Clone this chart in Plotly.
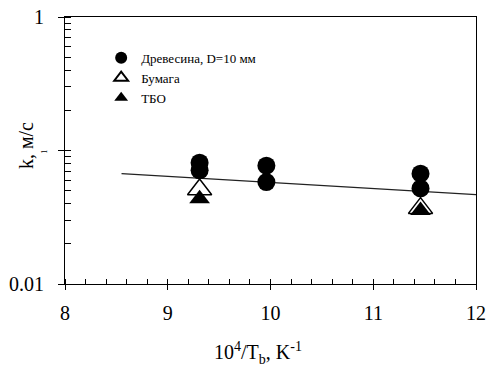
import plotly.graph_objects as go

# Data
wood_x = [9.31, 9.31, 9.96, 9.96, 11.46, 11.46]
wood_k = [0.081, 0.071, 0.077, 0.058, 0.067, 0.052]

paper_x = [9.31, 11.46]
paper_k = [0.051, 0.037]

msw_x = [9.31, 11.46]
msw_k = [0.0435, 0.0355]

fit_x = [8.55, 9.0, 9.5, 10.0, 10.5, 11.0, 11.5, 12.0]
fit_k = [0.0670, 0.0639, 0.0607, 0.0575, 0.0546, 0.0518, 0.0492, 0.0467]

y_tickvals = [0.01, 0.1, 1]
y_ticktext = ["0.01", "", "1"]

FONT = "Liberation Serif, Times New Roman, DejaVu Serif, serif"

fig = go.Figure()
fig.add_trace(go.Scatter(x=fit_x, y=fit_k, mode="lines", showlegend=False,
                         line=dict(color="#222222", width=1.3), hoverinfo="skip"))
fig.add_trace(go.Scatter(x=wood_x, y=wood_k, mode="markers", name="Древесина, D=10 мм",
                         marker=dict(symbol="circle", size=18, color="black")))
fig.add_trace(go.Scatter(x=paper_x, y=paper_k, mode="markers", name="Бумага",
                         marker=dict(symbol="triangle-up", size=21, color="white",
                                     line=dict(color="black", width=1.5))))
fig.add_trace(go.Scatter(x=msw_x, y=msw_k, mode="markers", name="ТБО",
                         marker=dict(symbol="triangle-up", size=18, color="black")))

fig.update_xaxes(range=[8, 12], dtick=1, tick0=8, showline=True, linecolor="black", linewidth=1,
                 mirror=True, ticks="outside", ticklen=5, tickcolor="black", showgrid=False,
                 zeroline=False, tickfont=dict(family=FONT, size=20, color="black"),
                 ticklabelstandoff=6, automargin=False,
                 minor=dict(ticks="inside", dtick=0.2, ticklen=5, tickcolor="black", showgrid=False))
fig.update_yaxes(type="log", range=[-2, 0], tickmode="array", tickvals=y_tickvals, ticktext=y_ticktext,
                 showline=True, linecolor="black", linewidth=1, mirror=True,
                 ticks="outside", ticklen=6, tickcolor="black", showgrid=False, zeroline=False,
                 tickfont=dict(family=FONT, size=20, color="black"), ticklabelstandoff=10,
                 automargin=False,
                 minor=dict(ticks="inside", dtick="D1", ticklen=6, tickcolor="black", showgrid=False))

fig.update_layout(
    width=488, height=369,
    margin=dict(l=65, r=12, t=17, b=85),
    plot_bgcolor="white", paper_bgcolor="white",
    font=dict(family=FONT, color="black"),
    legend=dict(x=0.088, y=0.903, xanchor="left", yanchor="top", bgcolor="rgba(0,0,0,0)",
                font=dict(family=FONT, size=13, color="black"), itemsizing="constant",
                tracegroupgap=1),
    annotations=[
        dict(text="k, м/с", textangle=-90, x=-0.095, y=0.52, xref="paper", yref="paper",
             xanchor="center", yanchor="middle", showarrow=False,
             font=dict(family=FONT, size=20, color="black")),
        dict(text="10<sup>4</sup>/T<sub>b</sub>, K<sup>-1</sup>", x=0.47, y=-0.2, xref="paper",
             yref="paper", xanchor="center", yanchor="top", showarrow=False,
             font=dict(family=FONT, size=20, color="black")),
        dict(text="1", textangle=-90, x=-0.052, y=0.494, xref="paper", yref="paper",
             xanchor="center", yanchor="middle", showarrow=False,
             font=dict(family=FONT, size=8, color="black")),
    ],
)

fig.write_html("out.html", config={"displayModeBar": False},
               post_script="document.body.style.margin='0';")
